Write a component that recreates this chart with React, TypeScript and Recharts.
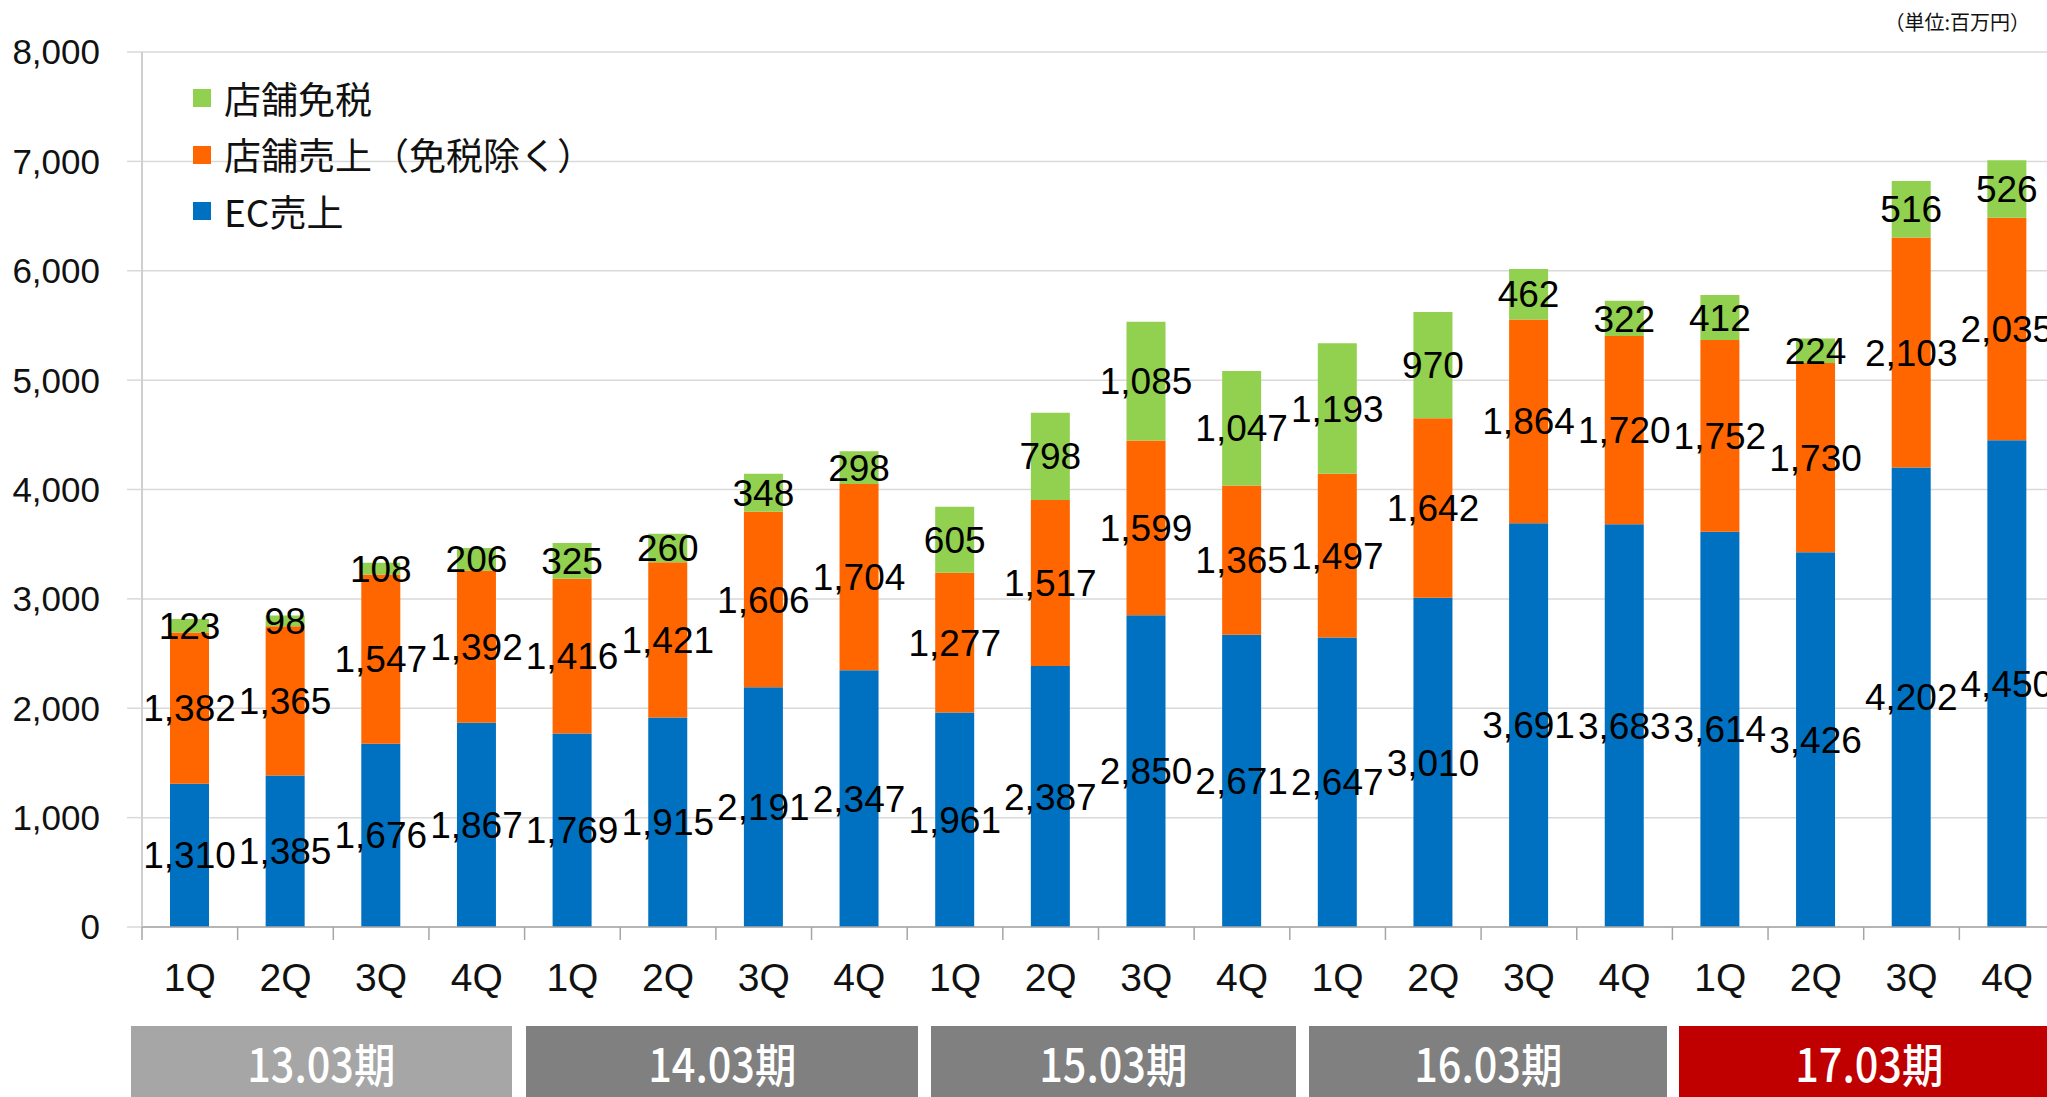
import React from 'react';
import {
  BarChart,
  Bar,
  XAxis,
  YAxis,
  CartesianGrid,
  LabelList,
} from 'recharts';

const QUARTERS = [
  '1Q', '2Q', '3Q', '4Q',
  '1Q', '2Q', '3Q', '4Q',
  '1Q', '2Q', '3Q', '4Q',
  '1Q', '2Q', '3Q', '4Q',
  '1Q', '2Q', '3Q', '4Q',
];
const EC_SALES = [
  1310, 1385, 1676, 1867, 1769, 1915, 2191, 2347, 1961, 2387,
  2850, 2671, 2647, 3010, 3691, 3683, 3614, 3426, 4202, 4450,
];
const STORE_SALES = [
  1382, 1365, 1547, 1392, 1416, 1421, 1606, 1704, 1277, 1517,
  1599, 1365, 1497, 1642, 1864, 1720, 1752, 1730, 2103, 2035,
];
const DUTY_FREE = [
  123, 98, 108, 206, 325, 260, 348, 298, 605, 798,
  1085, 1047, 1193, 970, 462, 322, 412, 224, 516, 526,
];
const PERIODS = ['13.03期', '14.03期', '15.03期', '16.03期', '17.03期'];
const Y_TICKS = [0, 1000, 2000, 3000, 4000, 5000, 6000, 7000, 8000];

const LEGEND = [
  { name: '店舗免税', color: '#92D050' },
  { name: '店舗売上（免税除く）', color: '#FF6600' },
  { name: 'EC売上', color: '#0070C0' },
];

// layout of the period boxes under the axis (x in page px)
const PERIOD_BOXES = [
  { left: 131, width: 381, bg: '#A6A6A6' },
  { left: 526, width: 392, bg: '#808080' },
  { left: 931, width: 365, bg: '#808080' },
  { left: 1309, width: 358, bg: '#808080' },
  { left: 1679, width: 380, bg: '#C00000' },
];

const FONT = '"Liberation Sans", Arial, "Noto Sans CJK JP", sans-serif';
const JP_FONT = '"Noto Sans CJK JP", "Liberation Sans", sans-serif';

const CHART_W = 2070;
const CHART_H = 1010;
const Y_AXIS_W = 142;
const MARGIN = { top: 52, right: 15, left: 0, bottom: 0 };
const PLOT_W = CHART_W - Y_AXIS_W - MARGIN.right;
const CAT_W = PLOT_W / QUARTERS.length;

const data = QUARTERS.map((q, i) => ({
  id: i,
  q,
  ec: EC_SALES[i],
  store: STORE_SALES[i],
  duty: DUTY_FREE[i],
}));

const fmt = (v: any) => Number(v).toLocaleString('en-US');

const QuarterTick = (props: any) => {
  const { x, y, payload } = props;
  const left = x - CAT_W / 2;
  return (
    <g>
      <line x1={left} y1={y} x2={left} y2={y + 13} stroke="#A6A6A6" strokeWidth={1.5} />
      <text
        x={x}
        y={y + 50}
        textAnchor="middle"
        dominantBaseline="central"
        fontSize={39}
        fontFamily={FONT}
        fill="#111"
      >
        {QUARTERS[payload.value]}
      </text>
    </g>
  );
};

export default function App() {
  return (
    <div
      style={{
        position: 'absolute',
        left: 0,
        top: 0,
        width: 2047,
        height: 1097,
        overflow: 'hidden',
        background: '#fff',
        fontFamily: FONT,
      }}
    >
      <BarChart
        width={CHART_W}
        height={CHART_H}
        data={data}
        margin={MARGIN}
        barSize={39}
      >
        <CartesianGrid vertical={false} stroke="#D9D9D9" strokeWidth={1.5} />
        <XAxis
          dataKey="id"
          type="category"
          height={CHART_H - 927 - MARGIN.bottom}
          tickSize={0}
          tickMargin={0}
          tickLine={false}
          axisLine={{ stroke: '#A6A6A6', strokeWidth: 1.5 }}
          tick={<QuarterTick />}
          interval={0}
        />
        <YAxis
          width={Y_AXIS_W}
          domain={[0, 8000]}
          ticks={Y_TICKS}
          tickFormatter={fmt}
          tickSize={15}
          tickMargin={27}
          tickLine={{ stroke: '#D9D9D9', strokeWidth: 1.5 }}
          axisLine={{ stroke: '#BFBFBF', strokeWidth: 1.5 }}
          tick={{ fontSize: 35, fill: '#111', fontFamily: FONT }}
          interval={0}
        />
        <Bar dataKey="ec" stackId="a" fill="#0070C0" isAnimationActive={false}>
          <LabelList dataKey="ec" position="center" fill="#000" fontSize={37} fontFamily={FONT} formatter={fmt} />
        </Bar>
        <Bar dataKey="store" stackId="a" fill="#FF6600" isAnimationActive={false}>
          <LabelList dataKey="store" position="center" fill="#000" fontSize={37} fontFamily={FONT} formatter={fmt} />
        </Bar>
        <Bar dataKey="duty" stackId="a" fill="#92D050" isAnimationActive={false}>
          <LabelList dataKey="duty" position="center" fill="#000" fontSize={37} fontFamily={FONT} formatter={fmt} />
        </Bar>
      </BarChart>

      {/* legend */}
      <div style={{ position: 'absolute', left: 193, top: 70 }}>
        {LEGEND.map((l) => (
          <div
            key={l.name}
            style={{ display: 'flex', alignItems: 'center', height: 56.5 }}
          >
            <div style={{ width: 18, height: 18, background: l.color, marginRight: 13 }} />
            <span style={{ fontSize: 37, fontFamily: JP_FONT, color: '#111', lineHeight: 1 }}>
              {l.name}
            </span>
          </div>
        ))}
      </div>

      {/* unit */}
      <div
        style={{
          position: 'absolute',
          right: 17,
          top: 10,
          fontSize: 20,
          fontFamily: JP_FONT,
          color: '#111',
          lineHeight: 1.2,
        }}
      >
        （単位:百万円）
      </div>

      {/* fiscal period boxes */}
      {PERIODS.map((p, i) => (
        <div
          key={p}
          style={{
            position: 'absolute',
            left: PERIOD_BOXES[i].left,
            width: PERIOD_BOXES[i].width,
            top: 1026,
            height: 71,
            background: PERIOD_BOXES[i].bg,
            display: 'flex',
            alignItems: 'center',
            justifyContent: 'center',
          }}
        >
          <span
            style={{
              color: '#fff',
              fontSize: 46,
              fontWeight: 500,
              fontFamily: JP_FONT,
              display: 'inline-block',
              transform: 'scaleX(0.9)',
              lineHeight: 1,
            }}
          >
            {p}
          </span>
        </div>
      ))}
    </div>
  );
}
